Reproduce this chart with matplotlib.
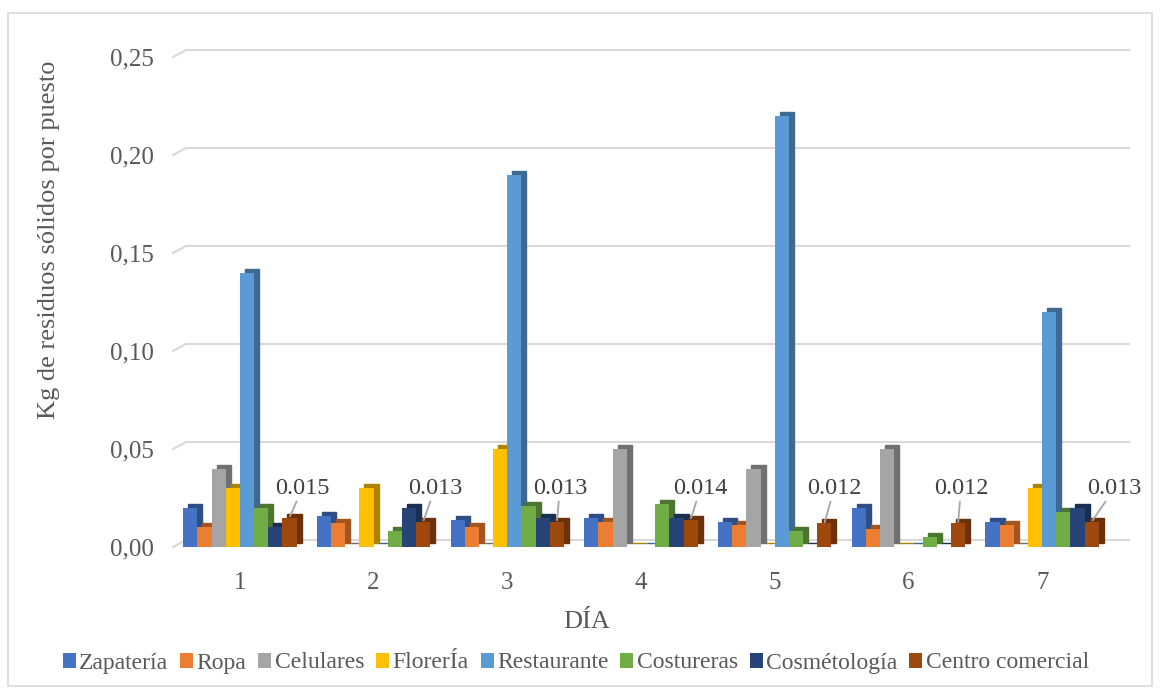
import numpy as np
import matplotlib.pyplot as plt
import matplotlib.transforms as mtransforms
from matplotlib.colors import to_rgb
from matplotlib.patches import Rectangle

# ---------------- DATA ----------------
dias = ['1', '2', '3', '4', '5', '6', '7']
zapateria = [0.020, 0.016, 0.014, 0.015, 0.013, 0.020, 0.013]
ropa = [0.010, 0.012, 0.010, 0.013, 0.011, 0.009, 0.011]
celulares = [0.040, 0.000, 0.000, 0.050, 0.040, 0.050, 0.000]
floreria = [0.030, 0.030, 0.050, 0.000, 0.000, 0.000, 0.030]
restaurante = [0.140, 0.000, 0.190, 0.000, 0.220, 0.000, 0.120]
costureras = [0.020, 0.008, 0.021, 0.022, 0.008, 0.005, 0.018]
cosmetologia = [0.010, 0.020, 0.015, 0.015, 0.000, 0.000, 0.020]
centro = [0.015, 0.013, 0.013, 0.014, 0.012, 0.012, 0.013]
centro_labels = ['0.015', '0.013', '0.013', '0.014', '0.012', '0.012', '0.013']

series_names = ['Zapatería', 'Ropa', 'Celulares', 'FlorerÍa', 'Restaurante',
                'Costureras', 'Cosmétología', 'Centro comercial']
series = [zapateria, ropa, celulares, floreria, restaurante,
          costureras, cosmetologia, centro]
colors = ['#4472C4', '#ED7D31', '#A5A5A5', '#FFC000', '#5B9BD5',
          '#70AD47', '#264478', '#9E480E']
# ---------------------------------------

plt.rcParams['font.family'] = ['Liberation Serif', 'DejaVu Serif']
TXT = '#595959'

W, H = 1161, 695
fig = plt.figure(figsize=(W / 100, H / 100), dpi=100)
ax = fig.add_axes([173 / W, 1 - 547 / H, 936 / W, 490 / H])
ax.set_xlim(0.5, 7.5)
ax.set_ylim(0, 0.25)
for s in ax.spines.values():
    s.set_visible(False)

# outer chart border
fig.patches.append(Rectangle((8 / W, 1 - 686 / H), 1144 / W, 673 / H,
                             transform=fig.transFigure, fill=False,
                             edgecolor='#d9d9d9', linewidth=1.2))

# back-wall gridlines (3D look)
wall = mtransforms.offset_copy(ax.transData, fig=fig, x=13, y=7, units='dots')
yticks = [0, 0.05, 0.10, 0.15, 0.20, 0.25]
for yv in yticks:
    ax.plot([0.5, 7.55], [yv, yv], color='#d9d9d9', lw=1.5,
            transform=wall, clip_on=False, zorder=0)
    ax.plot([0.5, 0.5 + 13 / 133.7], [yv, yv + 7 / 1960], color='#d9d9d9',
            lw=1.5, clip_on=False, zorder=0)

x = np.arange(1, len(dias) + 1)
n = len(series)
bw = 0.106
depth = mtransforms.offset_copy(ax.transData, fig=fig, x=5, y=4, units='dots')

for i, (vals, col) in enumerate(zip(series, colors)):
    pos = x + (i - (n - 1) / 2) * bw
    dark = tuple(c * 0.68 for c in to_rgb(col))
    ax.bar(pos, vals, bw, color=dark, edgecolor=dark, linewidth=1.0,
           transform=depth, zorder=2 + i * 0.01)
    ax.bar(pos, vals, bw, color=col, zorder=3 + i * 0.01, label=series_names[i])

# data labels for Centro comercial
label_dx = [13, 12, 3, 10, 10, 3, 23]
pos_c = x + (n - 1 - (n - 1) / 2) * bw
for j in range(len(dias)):
    ax.annotate(centro_labels[j], xy=(pos_c[j], centro[j]),
                xytext=(label_dx[j], (0.0300 - centro[j]) * 1960),
                textcoords='offset pixels', ha='center', va='center',
                fontsize=17.5, color='#404040', zorder=10,
                arrowprops=dict(arrowstyle='-', color='#a6a6a6', lw=1.3,
                                shrinkA=0, shrinkB=1))

ax.set_xticks(x)
ax.set_xticklabels(dias)
ax.set_yticks(yticks)
ax.set_yticklabels([f'{v:.2f}'.replace('.', ',') for v in yticks])
ax.tick_params(axis='both', length=0, labelsize=18, labelcolor=TXT)
ax.tick_params(axis='y', pad=14)
ax.tick_params(axis='x', pad=18)

ax.set_xlabel('DÍA', fontsize=19, color=TXT)
ax.set_ylabel('Kg de residuos sólidos por puesto', fontsize=19, color=TXT)
ax.xaxis.set_label_coords(414 / 936, -64 / 490)
ax.yaxis.set_label_coords(-113 / 936, (547 - 240) / 490)

handles, labels = ax.get_legend_handles_labels()
fig.legend(handles, labels, loc='center', bbox_to_anchor=(576 / W, 1 - 663 / H),
           ncol=8, frameon=False, fontsize=17, handlelength=0.55, handleheight=0.6,
           handletextpad=0.15, columnspacing=0.5, labelcolor=TXT)

fig.savefig('out.png', dpi=100)
